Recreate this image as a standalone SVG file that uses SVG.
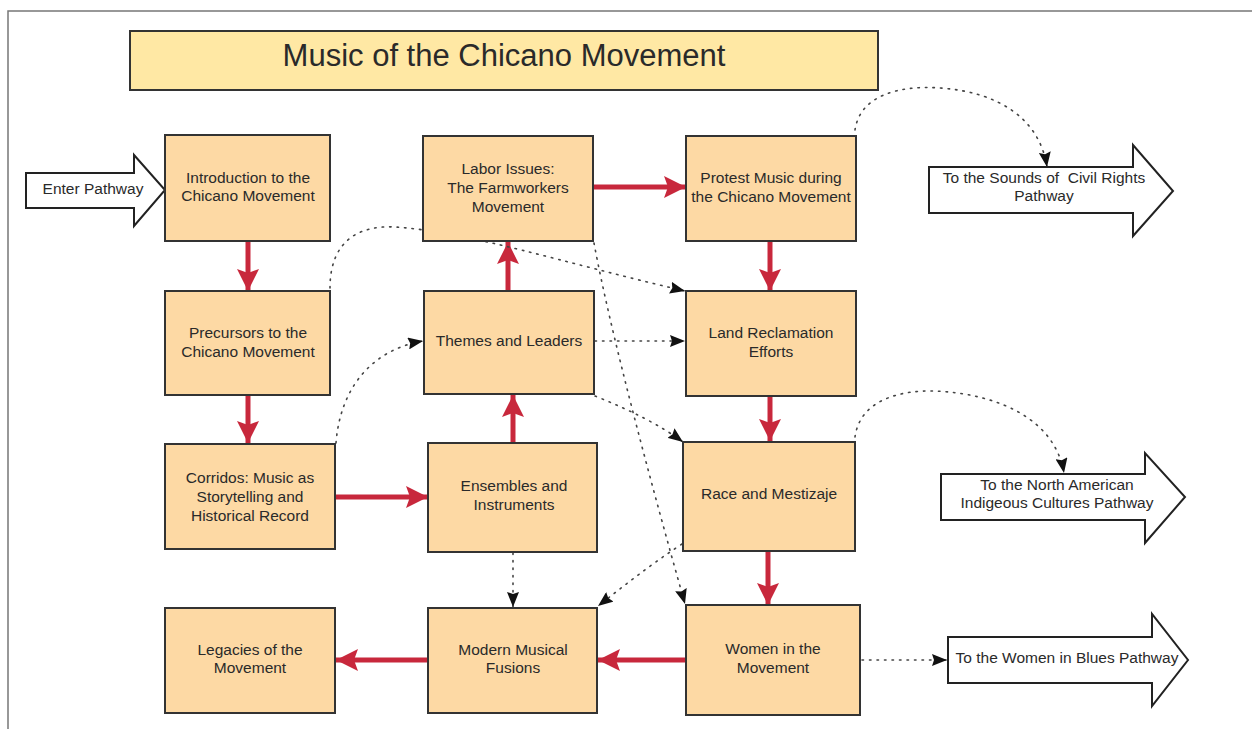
<svg xmlns="http://www.w3.org/2000/svg" width="1252" height="729" viewBox="0 0 1252 729">
<style>
.node{fill:#FDD9A4;stroke:#333;stroke-width:2}
.title{fill:#FFE8A4;stroke:#333;stroke-width:2}
.exit{fill:#fff;stroke:#222;stroke-width:2}
text{font-family:"Liberation Sans",Arial,sans-serif;font-size:15.5px;fill:#2a2a2a;text-anchor:middle}
.red{stroke:#C8283C;stroke-width:5;fill:none;marker-end:url(#rh)}
.dot{stroke:#444;stroke-width:1.6;fill:none;stroke-dasharray:1.5 6;stroke-linecap:round;marker-end:url(#bh)}
</style>
<defs>
<marker id="rh" markerUnits="userSpaceOnUse" markerWidth="26" markerHeight="22" refX="22" refY="11" orient="auto">
<path d="M0,0 L22,11 L0,22 L4,11 Z" fill="#C8283C"/>
</marker>
<marker id="bh" markerUnits="userSpaceOnUse" markerWidth="16" markerHeight="12" refX="15" refY="6" orient="auto">
<path d="M0,0 L15,6 L0,12 L2,6 Z" fill="#111"/>
</marker>
</defs>
<rect width="1252" height="729" fill="#fff"/>
<path d="M8,729 L8,11 L1252,11" fill="none" stroke="#777" stroke-width="1.5"/>

<g id="title">
<rect class="title" x="130" y="31" width="748" height="59"/>
<text x="504" y="66" style="font-size:31px">Music of the Chicano Movement</text>
</g>

<g id="connectors">
<line class="red" x1="248" y1="241" x2="248" y2="291"/>
<line class="red" x1="248" y1="395" x2="248" y2="443"/>
<line class="red" x1="335" y1="497" x2="428" y2="497"/>
<line class="red" x1="513" y1="443" x2="513" y2="395"/>
<line class="red" x1="508" y1="291" x2="508" y2="242"/>
<line class="red" x1="593" y1="187" x2="686" y2="187"/>
<line class="red" x1="770" y1="241" x2="770" y2="291"/>
<line class="red" x1="770" y1="396" x2="770" y2="441"/>
<line class="red" x1="768" y1="551" x2="768" y2="605"/>
<line class="red" x1="686" y1="660" x2="598" y2="660"/>
<line class="red" x1="428" y1="660" x2="336" y2="660"/>

<path class="dot" d="M855,130 C860,95 900,85 940,88 C1000,92 1040,120 1047,167"/>
<path class="dot" d="M855,437 C860,400 900,390 935,391 C1000,394 1055,420 1064,473"/>
<path class="dot" d="M862,660 L947,660"/>
<path class="dot" d="M330,288 C330,240 360,225 395,227 C470,232 560,262 685,291"/>
<path class="dot" d="M336,443 C340,390 370,350 423,341"/>
<path class="dot" d="M595,341 L685,341"/>
<path class="dot" d="M595,396 C630,410 660,425 683,442"/>
<path class="dot" d="M594,243 C610,330 650,480 685,604"/>
<path class="dot" d="M682,544 C650,565 625,585 598,606"/>
<path class="dot" d="M513,553 L513,607"/>
</g>

<g id="enter">
<path class="exit" d="M26,173 L134,173 L134,155 L165,190 L134,226 L134,208 L26,208 Z"/>
<text x="93" y="194">Enter Pathway</text>
</g>

<g id="intro">
<rect class="node" x="165" y="135" width="165" height="106"/>
<text x="248" y="183">Introduction to the</text>
<text x="248" y="201">Chicano Movement</text>
</g>

<g id="precursors">
<rect class="node" x="165" y="291" width="165" height="104"/>
<text x="248" y="338">Precursors to the</text>
<text x="248" y="357">Chicano Movement</text>
</g>

<g id="corridos">
<rect class="node" x="165" y="444" width="170" height="105"/>
<text x="250" y="483">Corridos: Music as</text>
<text x="250" y="502">Storytelling and</text>
<text x="250" y="521">Historical Record</text>
</g>

<g id="legacies">
<rect class="node" x="165" y="608" width="170" height="105"/>
<text x="250" y="655">Legacies of the</text>
<text x="250" y="673">Movement</text>
</g>

<g id="labor">
<rect class="node" x="423" y="136" width="170" height="105"/>
<text x="508" y="174">Labor Issues:</text>
<text x="508" y="193">The Farmworkers</text>
<text x="508" y="212">Movement</text>
</g>

<g id="themes">
<rect class="node" x="424" y="291" width="170" height="103"/>
<text x="509" y="346">Themes and Leaders</text>
</g>

<g id="ensembles">
<rect class="node" x="428" y="443" width="169" height="109"/>
<text x="514" y="491">Ensembles and</text>
<text x="514" y="510">Instruments</text>
</g>

<g id="modern">
<rect class="node" x="428" y="608" width="169" height="105"/>
<text x="513" y="655">Modern Musical</text>
<text x="513" y="673">Fusions</text>
</g>

<g id="protest">
<rect class="node" x="686" y="136" width="170" height="105"/>
<text x="771" y="183">Protest Music during</text>
<text x="771" y="202">the Chicano Movement</text>
</g>

<g id="land">
<rect class="node" x="686" y="291" width="170" height="105"/>
<text x="771" y="338">Land Reclamation</text>
<text x="771" y="357">Efforts</text>
</g>

<g id="race">
<rect class="node" x="683" y="442" width="172" height="109"/>
<text x="769" y="499">Race and Mestizaje</text>
</g>

<g id="women">
<rect class="node" x="686" y="605" width="174" height="110"/>
<text x="773" y="654">Women in the</text>
<text x="773" y="673">Movement</text>
</g>

<g id="exit-civil">
<path class="exit" d="M929,167 L1133,167 L1133,145 L1173,191 L1133,236 L1133,213 L929,213 Z"/>
<text x="1044" y="183" style="white-space:pre">To the Sounds of  Civil Rights</text>
<text x="1044" y="201">Pathway</text>
</g>

<g id="exit-indigenous">
<path class="exit" d="M941,474 L1145,474 L1145,453 L1185,497 L1145,543 L1145,520 L941,520 Z"/>
<text x="1057" y="490">To the North American</text>
<text x="1057" y="508">Indigeous Cultures Pathway</text>
</g>

<g id="exit-blues">
<path class="exit" d="M948,637 L1152,637 L1152,614 L1188,660 L1152,706 L1152,683 L948,683 Z"/>
<text x="1067" y="663">To the Women in Blues Pathway</text>
</g>
</svg>
